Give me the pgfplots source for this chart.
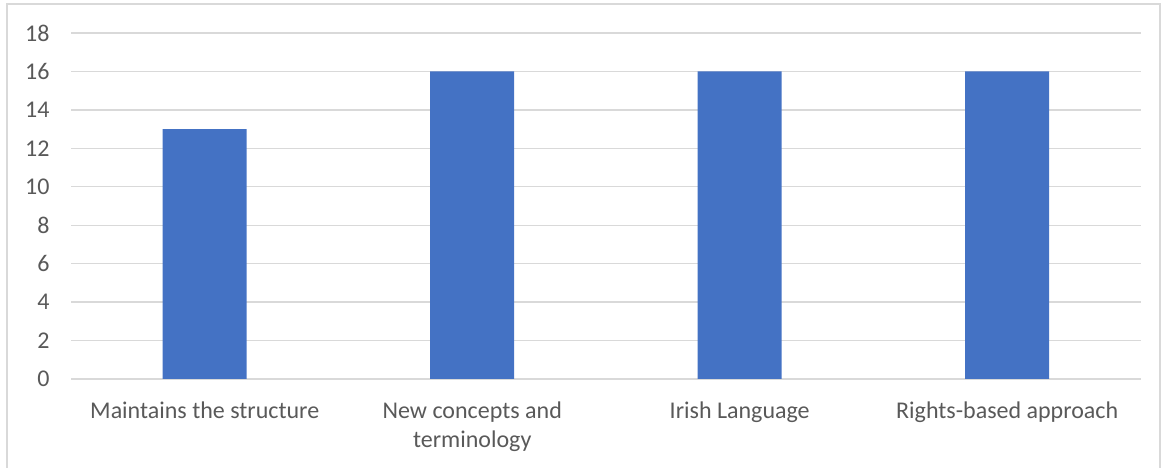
\documentclass[border=0pt]{standalone}
\usepackage{pgfplots}
\pgfplotsset{compat=1.18}
\usepackage{fontspec}
\setmainfont{Carlito}
\definecolor{barblue}{HTML}{4472C4}
\definecolor{gridgray}{HTML}{D9D9D9}
\definecolor{txtgray}{HTML}{595959}
\definecolor{bordergray}{HTML}{D9D9D9}
\begin{document}
\begin{tikzpicture}[x=1pt,y=1pt]
\useasboundingbox (0,0) rectangle (1165,468);
\draw[bordergray, line width=1.2pt] (7,-5) -- (7,464) -- (1160,464) -- (1160,-5);
\begin{axis}[
  at={(71pt,89pt)}, anchor=south west,
  scale only axis,
  width=1070pt, height=346pt,
  xmin=-0.5, xmax=3.5,
  ymin=0, ymax=18,
  ytick={0,2,...,18},
  xtick=data,
  xticklabels={Maintains the structure, {New concepts and\\terminology}, Irish Language, Rights-based approach},
  xticklabel style={align=center, font=\fontsize{24}{29}\selectfont, text=txtgray},
  yticklabel style={font=\fontsize{24}{29}\selectfont, text=txtgray},
  /pgf/number format/assume math mode=true,
  ymajorgrids,
  grid style={gridgray, line width=1.3pt},
  axis line style={draw=none},
  axis x line*=bottom,
  x axis line style={gridgray, line width=1.3pt},
  tick style={draw=none},
  major tick length=0pt,
  yticklabel shift=18pt,
  xticklabel shift=19pt,
  axis y line*=left,
  y axis line style={draw=none},
]
\addplot[ybar, bar width=84pt, fill=barblue, draw=none] coordinates {(0,13) (1,16) (2,16) (3,16)};
\end{axis}
\end{tikzpicture}
\end{document}
